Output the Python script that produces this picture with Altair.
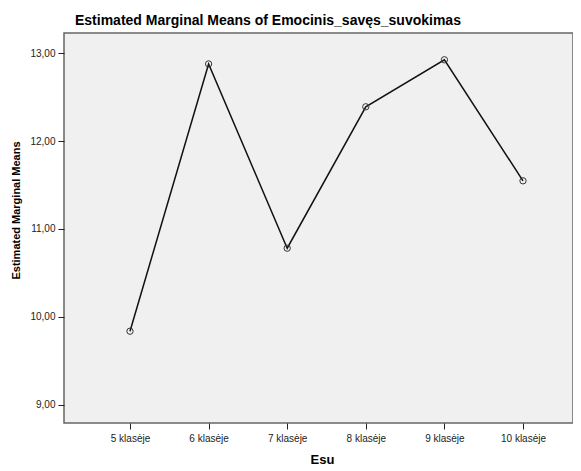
import altair as alt
import pandas as pd

categories = ["5 klasėje", "6 klasėje", "7 klasėje", "8 klasėje", "9 klasėje", "10 klasėje"]
means = [9.835, 12.878, 10.78, 12.39, 12.925, 11.547]
y_ticks = [9, 10, 11, 12, 13]

df = pd.DataFrame({"Esu": categories, "mean": means})

FONT = "Liberation Sans"

x = alt.X("Esu:N", sort=categories,
          scale=alt.Scale(type="point", range=[66, 459], padding=0),
          axis=alt.Axis(title="Esu", labelAngle=0, labelFontSize=10, labelColor="#222",
                        titleFontSize=13, titleFontWeight="bold", titlePadding=10,
                        titleX=258,
                        tickSize=6, tickColor="#222", domain=False, labelPadding=4))
y = alt.Y("mean:Q",
          scale=alt.Scale(domain=[8.79, 13.23], nice=False, zero=False),
          axis=alt.Axis(title="Estimated Marginal Means", values=y_ticks,
                        labelExpr="replace(format(datum.value, '.2f'), '.', ',')",
                        labelFontSize=10, labelColor="#222", grid=False,
                        titleFontSize=11, titleFontWeight="bold",
                        titleAngle=270, titleAlign="center", titleBaseline="middle",
                        titleX=-48, titleY=177,
                        tickSize=6, tickColor="#222", domain=False, labelPadding=3))

line = alt.Chart(df).mark_line(color="#111", strokeWidth=1.5).encode(x=x, y=y)
pts = alt.Chart(df).mark_point(shape="circle", filled=False, size=40, color="#333",
                               strokeWidth=1, opacity=1).encode(x=x, y=y)

chart = (line + pts).properties(
    width=509, height=390,
    title=alt.TitleParams("Estimated Marginal Means of Emocinis_savęs_suvokimas",
                          anchor="start", frame="group", dx=11, fontSize=14, fontWeight="bold",
                          font=FONT, color="#000", offset=5),
    autosize=alt.AutoSizeParams(type="none"),
    padding={"left": 56, "top": 25, "right": 0, "bottom": 48},
    background="white",
).configure_view(fill="#f0f0f0", stroke="#666", strokeWidth=1.5).configure_axis(
    labelFont=FONT, titleFont=FONT, titleColor="#000"
)

chart.save("out.html", embed_options={"renderer": "svg", "actions": False})
